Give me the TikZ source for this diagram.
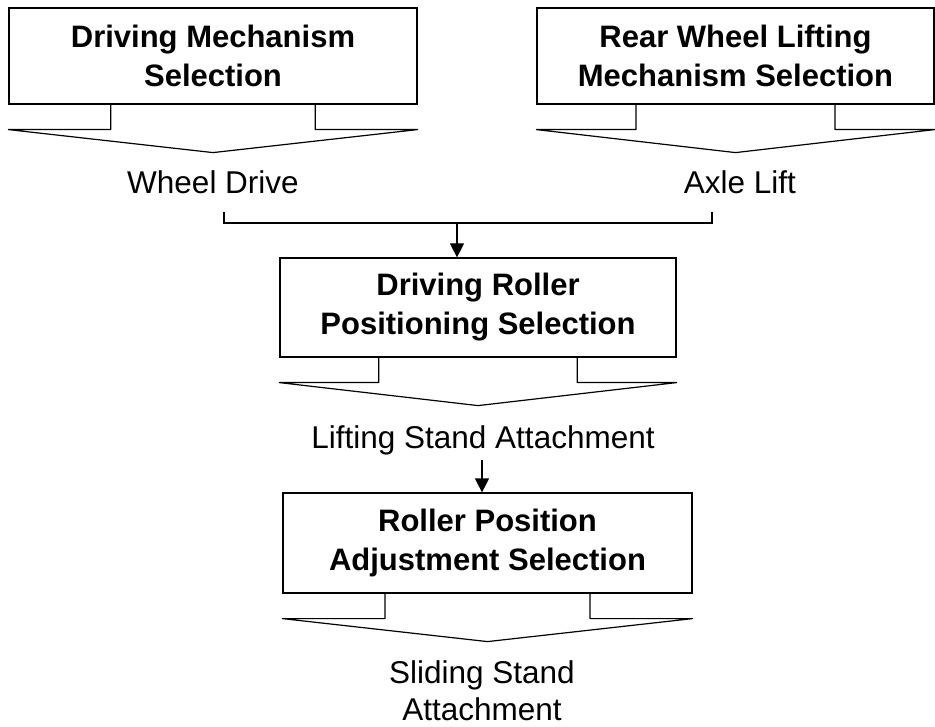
\documentclass[tikz,border=0pt]{standalone}
\usepackage{fontspec}
\setmainfont{Liberation Sans}
\usetikzlibrary{arrows.meta, calc, positioning}
\tikzset{
	selBox/.style={draw, line width=1.2pt, align=center, inner sep=0pt, font=\bfseries\fontsize{31}{39}\selectfont},
	resText/.style={align=center, inner sep=0pt, font=\fontsize{31.5}{37}\selectfont},
	flowArrow/.style={line width=1.2pt, -{Triangle[length=14pt,width=14pt]}},
}
\newcommand{\resultArrow}[1]{%
	\draw[line width=1.2pt, line join=round] ($(#1.south west)!.25!(#1.south east)$) |- ($(#1.south west)+(0,25)$) -- ($(#1.south)+(0,48)$) -- ($(#1.south east)+(0,25)$) -| ($(#1.south west)!.75!(#1.south east)$);%
}

\begin{document}
\begin{tikzpicture}[x=1pt, y=-1pt]
\useasboundingbox (0,0) rectangle (935,727);

% Draw selection boxes
\node[selBox, minimum width=408pt, minimum height=96pt] (drive) at (213,56) {Driving Mechanism\\Selection};
\node[selBox, minimum width=397pt, minimum height=96pt] (lift) at (735.5,56) {Rear Wheel Lifting\\Mechanism Selection};
\node[selBox, minimum width=396pt, minimum height=99pt] (roller) at (478,307.5) {Driving Roller\\Positioning Selection};
\node[selBox, minimum width=409pt, minimum height=100pt] (adjust) at (487.5,543) {Roller Position\\Adjustment Selection};

% Draw result arrows
\resultArrow{drive}
\resultArrow{lift}
\resultArrow{roller}
\resultArrow{adjust}

% Draw results
\node[resText, anchor=base] (wheelDrive) at (213,194) {Wheel Drive};
\node[resText, anchor=base] (axleLift) at (740,194) {Axle Lift};
\node[resText, anchor=base] (standLift) at (483,448) {Lifting Stand Attachment};
\node[resText, anchor=north] (standSlide) at (482,660) {Sliding Stand\\Attachment};

% Draw connectors
\coordinate (joinL) at (224,212);
\coordinate (joinR) at (712,212);
\coordinate (joinM) at (457,223);
\draw[line width=1.2pt] (joinL) |- (joinR |- joinM) -- (joinR);
\draw[flowArrow] (joinM) -- (joinM |- roller.north);
\draw[flowArrow] ([xshift=-1pt, yshift=-5pt]standLift.south) -- ([xshift=-1pt]standLift.south |- adjust.north);
\end{tikzpicture}
\end{document}
